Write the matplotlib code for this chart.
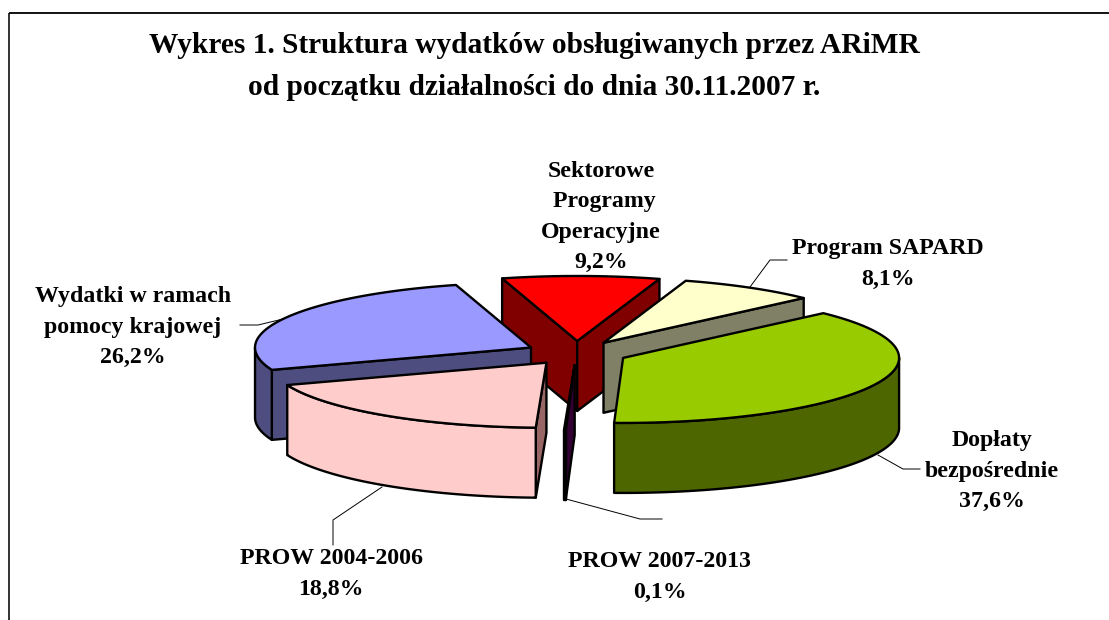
import numpy as np
import matplotlib
matplotlib.use('Agg')
import matplotlib.pyplot as plt
from matplotlib.patches import Polygon

plt.rcParams['font.family'] = ['Liberation Serif', 'DejaVu Serif']

# dane z wykresu (%)
names = ['Doplaty', 'PROW 2007-2013', 'PROW 2004-2006', 'Krajowa', 'SPO', 'SAPARD']
values = [37.6, 0.1, 18.8, 26.2, 9.2, 8.1]
label_names = ['Dopłaty\nbezpośrednie', 'PROW 2007-2013', 'PROW 2004-2006',
               'Wydatki w ramach\npomocy krajowej', 'Sektorowe\n Programy\nOperacyjne',
               'Program SAPARD']
top_colors = ['#99CC00', '#660066', '#FFCCCC', '#9999FF', '#FF0000', '#FFFFCC']
wall_colors = ['#4D6600', '#330033', '#FFCCCC', '#4D4D80', '#800000', '#808066']
radial_colors = ['#4D6600', '#330033', '#996666', '#4D4D80', '#800000', '#808066']
label_xy = [(992, 471), (660, 577), (331, 574), (133, 327), (601, 217), (888, 264)]

# rzut kola 3D
cx, cy = 576.5, 353
rx, ry = 276, 65
depth = 70
explode = 0.185
start_angle = 43.5
edge_lw = 1.7

fig = plt.figure(figsize=(11.09, 6.2), dpi=100)
ax = fig.add_axes([0, 0, 1, 1])
ax.set_xlim(0, 1109)
ax.set_ylim(620, 0)
ax.axis('off')

# ramka (prawa i dolna krawedz poza kadrem)
ax.plot([9, 9], [620, 13], color='#222222', lw=1.3, solid_capstyle='butt')
ax.plot([9, 1109], [13, 13], color='black', lw=1.3, solid_capstyle='butt')


def proj(theta, ox, oy, dz=0):
    t = np.radians(theta)
    return ox + rx * np.cos(t), oy - ry * np.sin(t) + dz


def poly(points, color, z):
    ax.add_patch(Polygon(points, closed=True, facecolor=color, edgecolor='black',
                         lw=edge_lw, joinstyle='round', zorder=z))


shares = np.array(values) / sum(values) * 360
ends = start_angle - np.cumsum(shares)
starts = ends + shares
mids = (starts + ends) / 2

# od tylu do przodu
order = np.argsort(-np.sin(np.radians(mids)))
for rank, i in enumerate(order):
    z = 10 + rank * 3
    ox = cx + explode * rx * np.cos(np.radians(mids[i]))
    oy = cy - explode * ry * np.sin(np.radians(mids[i]))
    arc = np.linspace(starts[i], ends[i], 200)
    ax_x, ax_y = proj(arc, ox, oy)

    # sciany radialne
    if np.cos(np.radians(starts[i])) < 0:
        x1, y1 = proj(starts[i], ox, oy)
        poly([(ox, oy), (x1, y1), (x1, y1 + depth), (ox, oy + depth)], radial_colors[i], z)
    if np.cos(np.radians(ends[i])) > 0:
        x1, y1 = proj(ends[i], ox, oy)
        poly([(ox, oy), (x1, y1), (x1, y1 + depth), (ox, oy + depth)], radial_colors[i], z)

    # sciana zewnetrzna
    front = np.sin(np.radians(arc)) <= 0
    if front.any():
        fx, fy = ax_x[front], ax_y[front]
        pts = list(zip(fx, fy)) + list(zip(fx[::-1], fy[::-1] + depth))
        poly(pts, wall_colors[i], z + 1)

    # wierzch
    poly([(ox, oy)] + list(zip(ax_x, ax_y)), top_colors[i], z + 2)

# linie odniesienia
leaders = [
    [(878, 455), (903, 469), (920, 469)],
    [(566, 499), (640, 519), (662, 519)],
    [(382, 487), (333, 520), (333, 545)],
    [(283, 319), (258, 325), (240, 325)],
    [(750, 287), (770, 260), (787, 260)],
]
for pts in leaders:
    xs, ys = zip(*pts)
    ax.plot(xs, ys, color='black', lw=0.7, zorder=5)

ax.text(534, 66.5, 'Wykres 1. Struktura wydatków obsługiwanych przez ARiMR\n'
                   'od początku działalności do dnia 30.11.2007 r.',
        ha='center', va='center', fontsize=21.2, fontweight='bold', linespacing=1.73)

for name, v, (lx, ly) in zip(label_names, values, label_xy):
    pct = f'{v:.1f}'.replace('.', ',') + '%'
    ax.text(lx, ly, name + '\n' + pct, ha='center', va='center',
            fontsize=17.2, fontweight='bold', linespacing=1.6, zorder=60)

fig.savefig('out.png', dpi=100)
